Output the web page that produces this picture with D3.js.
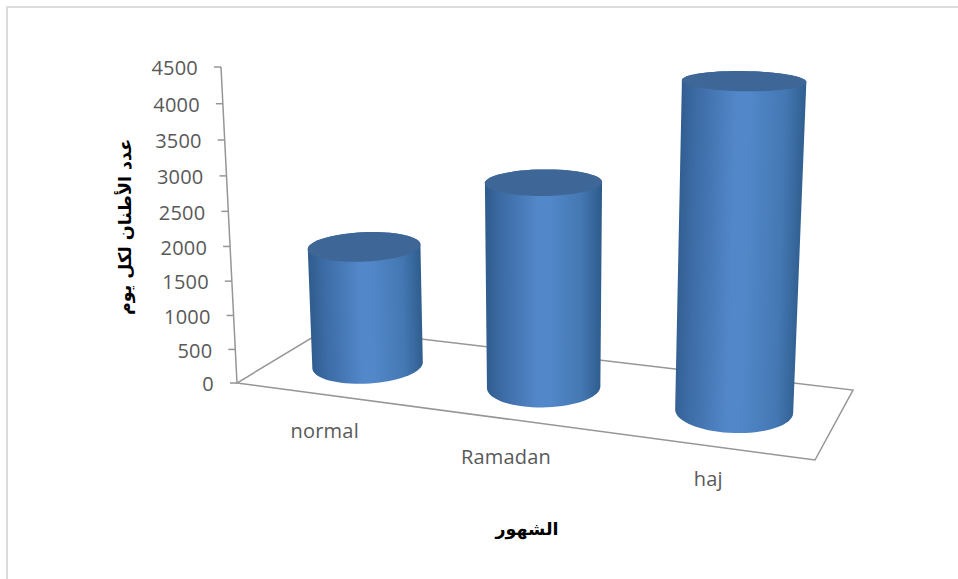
<!DOCTYPE html>
<html>
<head>
<meta charset="utf-8">
<script src="https://cdn.jsdelivr.net/npm/d3@7"></script>
<style>
  html, body { margin: 0; padding: 0; background: #fff; }
  svg { display: block; }
  .tick-label { font-family: "Open Sans", sans-serif; font-size: 20px; fill: #595959; letter-spacing: .2px; }
  .axis-title { font-family: "DejaVu Sans", sans-serif; font-weight: bold; font-size: 17.5px; fill: #000; }
</style>
</head>
<body>
<script>
// Daily tonnage per period
const categories = ["normal", "Ramadan", "haj"];
const tonnes = [1790, 2950, 4500];
const valueTicks = [0, 500, 1000, 1500, 2000, 2500, 3000, 3500, 4000, 4500];
const yTitle = "عدد الأطنان لكل يوم";
const xTitle = "الشهور";

const width = 958, height = 579;

// Camera: floor corners on screen, top of the value axis, and the point where verticals converge
const floorFL = [237, 383], floorFR = [815, 460], floorBR = [853, 390], floorBL = [328, 328];
const axisTopY = 67;
const verticalVP = [549, 6543];

const dx1 = floorFR[0] - floorBR[0], dx2 = floorBL[0] - floorBR[0];
const dy1 = floorFR[1] - floorBR[1], dy2 = floorBL[1] - floorBR[1];
const sx = floorFL[0] - floorFR[0] + floorBR[0] - floorBL[0];
const sy = floorFL[1] - floorFR[1] + floorBR[1] - floorBL[1];
const den = dx1 * dy2 - dx2 * dy1;
const g = (sx * dy2 - dx2 * sy) / den, h = (dx1 * sy - sx * dy1) / den;
const a = floorFR[0] - floorFL[0] + g * floorFR[0], b = floorBL[0] - floorFL[0] + h * floorBL[0];
const d = floorFR[1] - floorFL[1] + g * floorFR[1], e = floorBL[1] - floorFL[1] + h * floorBL[1];
const w = (axisTopY - floorFL[1]) / (verticalVP[1] - axisTopY);

// World coordinates: u along the categories, v into the depth, t up the value axis (all 0..1)
function project(u, v, t) {
  const q = g * u + h * v + 1 + w * t;
  return [
    (a * u + b * v + floorFL[0] + w * verticalVP[0] * t) / q,
    (d * u + e * v + floorFL[1] + w * verticalVP[1] * t) / q
  ];
}

const xBand = d3.scaleBand().domain(categories).range([0, 1]);
const yValue = d3.scaleLinear().domain([0, 4500]).range([0, 1]);
const radiusU = 0.096, radiusV = 0.31, depthMid = 0.5;
const axisColor = "#969696";

const svg = d3.select("body").append("svg").attr("width", width).attr("height", height);
const defs = svg.append("defs");
const line = d3.line();

// Frame of the chart area, open to the right and bottom
svg.append("path").attr("d", line([[7, height], [7, 7], [width, 7]]))
  .attr("fill", "none").attr("stroke", "#dcdcdc").attr("stroke-width", 2);

// Floor
svg.append("path")
  .attr("d", line([project(0,0,0), project(1,0,0), project(1,1,0), project(0,1,0)]) + "Z")
  .attr("fill", "none").attr("stroke", axisColor).attr("stroke-width", 1.5);

// Value axis with outward ticks
svg.append("path").attr("d", line([project(0,0,0), project(0,0,1)]))
  .attr("fill", "none").attr("stroke", axisColor).attr("stroke-width", 1.5);

const ticks = svg.append("g").selectAll("g").data(valueTicks).join("g");
ticks.append("line")
  .attr("x1", v => project(0,0,yValue(v))[0] - 7)
  .attr("x2", v => project(0,0,yValue(v))[0])
  .attr("y1", v => project(0,0,yValue(v))[1])
  .attr("y2", v => project(0,0,yValue(v))[1])
  .attr("stroke", axisColor).attr("stroke-width", 1.5);
ticks.append("text").attr("class", "tick-label")
  .attr("x", v => project(0,0,yValue(v))[0] - 23)
  .attr("y", v => project(0,0,yValue(v))[1] + 1)
  .attr("dy", "0.36em").attr("text-anchor", "end")
  .text(v => v);

// Cylinders
const ring = (cu, t) => d3.range(0, 72).map(i => {
  const th = i / 72 * 2 * Math.PI;
  return project(cu + radiusU * Math.cos(th), depthMid + radiusV * Math.sin(th), t);
});

categories.forEach((cat, i) => {
  const cu = xBand(cat) + xBand.bandwidth() / 2;
  const t = yValue(tonnes[i]);
  const bottom = ring(cu, 0), top = ring(cu, t);
  const hull = d3.polygonHull(bottom.concat(top));

  // Shading runs across the cylinder, square to its leaning axis
  const b0 = project(cu, depthMid, 0), t0 = project(cu, depthMid, t);
  const len = Math.hypot(t0[0] - b0[0], t0[1] - b0[1]);
  const nx = (b0[1] - t0[1]) / len, ny = (t0[0] - b0[0]) / len;
  const mid = project(cu, depthMid, t / 2);
  const halfW = (d3.max(hull, p => p[0]) - d3.min(hull, p => p[0])) / 2;
  const id = "shade" + i;
  const grad = defs.append("linearGradient").attr("id", id).attr("gradientUnits", "userSpaceOnUse")
    .attr("x1", mid[0] - nx * halfW).attr("y1", mid[1] - ny * halfW)
    .attr("x2", mid[0] + nx * halfW).attr("y2", mid[1] + ny * halfW);
  [[0, "#2f5b8c"], [0.15, "#3d6ca6"], [0.45, "#5287c9"], [0.55, "#5287c9"], [0.82, "#4478b3"], [1, "#2d5a8a"]]
    .forEach(s => grad.append("stop").attr("offset", s[0]).attr("stop-color", s[1]));

  svg.append("path").attr("d", line(hull) + "Z").attr("fill", `url(#${id})`);
  svg.append("path").attr("d", line(top) + "Z").attr("fill", "#3e6696");
});

// Category labels sit just in front of the floor
const labelOffsets = [[1, 43], [-2, 45], [0, 40]];
svg.append("g").selectAll("text").data(categories).join("text")
  .attr("class", "tick-label")
  .attr("text-anchor", "middle")
  .attr("x", (c, i) => project(xBand(c) + xBand.bandwidth() / 2, 0, 0)[0] + labelOffsets[i][0])
  .attr("y", (c, i) => project(xBand(c) + xBand.bandwidth() / 2, 0, 0)[1] + labelOffsets[i][1])
  .text(c => c);

// Axis titles
svg.append("text").attr("class", "axis-title").attr("text-anchor", "middle")
  .attr("transform", "translate(131,227) rotate(-90)").attr("direction", "rtl").text(yTitle);
svg.append("text").attr("class", "axis-title").attr("text-anchor", "middle")
  .attr("x", 527).attr("y", 535).attr("direction", "rtl").text(xTitle);
</script>
</body>
</html>
